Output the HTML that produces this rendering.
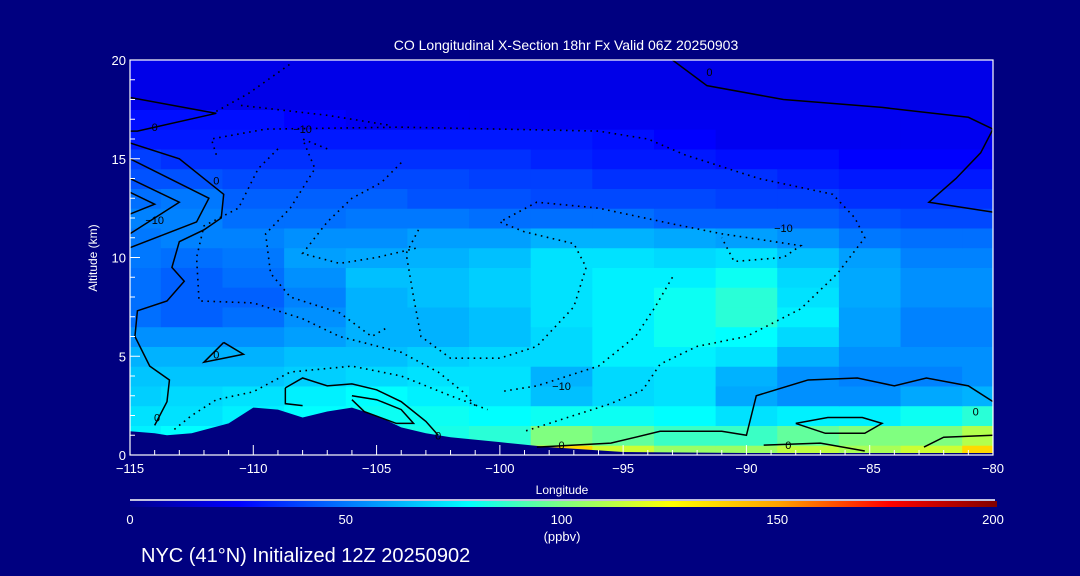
<!DOCTYPE html>
<html><head><meta charset="utf-8"><style>
html,body{margin:0;padding:0;background:#000080;}
svg{display:block;font-family:"Liberation Sans",sans-serif;}
</style></head><body>
<svg id="chart" width="1080" height="576" viewBox="0 0 1080 576" xmlns="http://www.w3.org/2000/svg">
<rect width="1080" height="576" fill="#000080"/>
<defs>
<clipPath id="plotclip"><rect x="130" y="60" width="863" height="395"/></clipPath>
<linearGradient id="cbgrad" x1="0" x2="1" y1="0" y2="0">
<stop offset="0" stop-color="#00008c"/><stop offset="0.125" stop-color="#0000ff"/>
<stop offset="0.39" stop-color="#00ffff"/><stop offset="0.5" stop-color="#80ff80"/>
<stop offset="0.625" stop-color="#ffff00"/><stop offset="0.75" stop-color="#ffa000"/>
<stop offset="0.875" stop-color="#ff0000"/><stop offset="1" stop-color="#800000"/>
</linearGradient>
</defs>
<g id="cells" clip-path="url(#plotclip)"></g>
<polygon id="terrain" fill="#000080"/>
<g id="contours" clip-path="url(#plotclip)"></g>
<g id="axes"></g>
<text x="566" y="50" fill="#fff" font-size="14" text-anchor="middle">CO Longitudinal X-Section 18hr  Fx Valid 06Z 20250903</text>
<text x="0" y="0" fill="#fff" font-size="12" text-anchor="middle" transform="translate(97,258) rotate(-90)">Altitude (km)</text>
<text x="562" y="494" fill="#fff" font-size="12" text-anchor="middle">Longitude</text>
<line x1="130" y1="500" x2="995" y2="500" stroke="#fff" stroke-width="1.5"/>
<rect x="130" y="501" width="867" height="6" fill="url(#cbgrad)"/>
<g id="cbticks"></g>
<text x="562" y="541" fill="#fff" font-size="13" text-anchor="middle">(ppbv)</text>
<text x="141" y="562" fill="#fff" font-size="20">NYC (41°N) Initialized 12Z 20250902</text>
</svg>
<script>
const lons = [-115,-112.5,-110,-107.5,-105,-102.5,-100,-97.5,-95,-92.5,-90,-87.5,-85,-82.5,-80];
const alts = [0,1,2,3,4,5,6,7,8,9,10,11,12,13,14,15,16,17,18,19,20];
const coRow0 = [78,80,80,82,85,85,90,135,115,105,105,112,108,115,135];
const coRow1 = [75,78,80,80,82,82,85,100,95,88,88,95,100,100,110];
const coRow2 = [72,72,75,78,80,80,78,80,80,78,72,75,75,80,85];
const coRow3 = [68,70,72,75,78,75,72,65,70,72,60,55,55,60,62];
const coRow4 = [66,66,66,68,70,72,72,62,70,72,62,55,52,52,55];
const coRow5 = [62,62,62,65,65,68,70,70,75,75,72,62,55,55,55];
const coRow6 = [55,55,55,58,62,62,65,70,75,80,78,70,58,52,52];
const coRow7 = [48,45,48,55,62,62,65,72,75,80,85,75,58,52,52];
const coRow8 = [48,45,45,52,62,65,68,72,75,80,85,72,60,55,55];
const coRow9 = [48,45,48,55,65,65,68,72,75,75,80,70,60,55,55];
const coRow10 = [50,48,50,58,60,62,65,72,72,70,72,65,58,52,52];
const coRow11 = [50,52,52,55,55,58,58,62,62,60,58,55,50,48,48];
const coRow12 = [52,52,48,48,50,50,48,48,48,45,45,45,42,40,40];
const coRow13 = [48,50,45,45,45,42,42,40,40,40,38,38,35,35,35];
const coRow14 = [42,42,40,40,40,40,38,38,35,35,35,32,30,30,30];
const coRow15 = [38,35,35,35,35,35,35,32,30,30,28,28,25,25,25];
const coRow16 = [30,30,30,30,30,30,30,30,28,25,22,22,22,22,22];
const coRow17 = [28,28,28,25,22,22,22,22,22,22,22,22,22,22,22];
const coRow18 = [20,20,20,20,20,20,20,20,20,20,20,20,20,20,20];
const coRow19 = [20,20,20,20,20,20,20,20,20,20,20,20,20,20,20];
const coRow20 = [20,20,20,20,20,20,20,20,20,20,20,20,20,20,20];
const coRows = [coRow0,coRow1,coRow2,coRow3,coRow4,coRow5,coRow6,coRow7,coRow8,coRow9,coRow10,coRow11,coRow12,coRow13,coRow14,coRow15,coRow16,coRow17,coRow18,coRow19,coRow20];
const terrainLon = [-115,-114,-113.5,-112.5,-111,-110,-109,-108,-107,-106,-105,-104,-103,-102,-100,-98,-95,-90,-85,-80];
const terrainAlt = [1.2,1.1,1.0,1.1,1.6,2.4,2.3,1.9,2.2,2.4,2.0,1.4,1.1,0.9,0.65,0.4,0.15,0.1,0.1,0.1];
const xTicks = [-115,-110,-105,-100,-95,-90,-85,-80];
const xTickLabels = ["\u2212115","\u2212110","\u2212105","\u2212100","\u221295","\u221290","\u221285","\u221280"];
const yTicks = [0,5,10,15,20];
const cbTicks = [0,50,100,150,200];
const solid1 = [[-115,18.1],[-111.5,17.3],[-114.7,16.4],[-115,16.4]];
const solid2 = [[-115,15.8],[-113,15.0],[-111.2,13.2],[-111.3,12],[-112,11.4],[-113,10.8],[-113.3,9.5],[-112.8,8.8],[-113.5,7.8],[-114.7,7.3],[-114.8,6.0],[-114.2,4.5],[-113.4,3.8],[-113.5,2.7],[-114,1.5]];
const solid3 = [[-115,15.0],[-111.8,13.0],[-112.3,11.8],[-115,10.5]];
const solid4 = [[-115,14.0],[-113,12.8],[-115,11.2]];
const solid5 = [[-115,13.3],[-114,12.7],[-115,12.2]];
const solid6 = [[-111.2,5.7],[-110.4,5.1],[-111.2,4.9],[-112,4.7],[-111.2,5.7]];
const solid7 = [[-108.7,3.4],[-108,3.9],[-107,3.5],[-106,3.6],[-105,3.3],[-104,2.7],[-103,1.7],[-102.5,1.0]];
const solid8 = [[-108.7,3.4],[-108.7,2.6],[-108,2.5]];
const solid9 = [[-106,3.0],[-105,2.8],[-104,2.3],[-103.5,1.6],[-104.2,1.6],[-105.5,2.2],[-106,2.8]];
const solid10 = [[-93,20],[-91.6,18.7],[-88.5,18.0],[-84.5,17.6],[-81,17.1],[-80,16.5],[-80.5,15.3],[-81.5,14],[-82.6,12.8],[-80,12.3]];
const solid11 = [[-98.5,0.4],[-95.5,0.6],[-93.5,1.2],[-91,1.2],[-90,1.0],[-89.6,3.0],[-87.5,3.8],[-85.5,3.9],[-84,3.5],[-82.7,3.9],[-81,3.5],[-80,2.7]];
const solid12 = [[-88,1.6],[-86.7,1.9],[-85.3,1.9],[-84.5,1.6],[-85.2,1.1],[-86.8,1.1],[-88,1.6]];
const solid13 = [[-80,1.0],[-82,0.9],[-82.8,0.4]];
const solid14 = [[-89.3,0.5],[-87,0.6],[-85.2,0.2]];
const dot1 = [[-111.5,17.4],[-110.2,18.3],[-108.5,19.8]];
const dot2 = [[-110.5,17.7],[-107,17.2],[-104.5,16.7]];
const dot3 = [[-111.5,15.2],[-111.7,16.0],[-109.5,16.5],[-104,16.6],[-100,16.5],[-96,16.4],[-94,16.0],[-92.5,15.2],[-89.5,14.0],[-86.5,13.2],[-85.6,12.0],[-85.2,11.0],[-86.3,9.2],[-87.8,7.4],[-90,6.0],[-92,5.5],[-93.5,4.6],[-94.2,3.3],[-95.5,2.6],[-98,1.6],[-99,1.2]];
const dot4 = [[-109,15.5],[-109.8,14.5],[-110.6,12.5],[-112,11.6],[-112.3,10],[-112.2,7.8],[-110,7.7],[-108,6.9],[-106.5,6.0],[-104,5.2],[-102.5,4.2],[-101.5,3.2],[-101,2.5]];
const dot5 = [[-107,15.5],[-108,16.0],[-107.5,14.5],[-108.5,12.5],[-109.5,11.2],[-109.3,9.2],[-108.5,8.0],[-106.5,7.2],[-105.2,6.0],[-104.5,6.5]];
const dot6 = [[-104,14.8],[-104.8,13.8],[-106,13.0],[-107,11.8],[-108,10.2],[-106.5,9.7],[-105,10.0],[-103.3,10.5]];
const dot7 = [[-103.3,11.4],[-103.8,10.2],[-103.5,8.0],[-103.2,6.0],[-102,4.9],[-100,4.9],[-98.5,5.5],[-97,7.5],[-96.5,9.5],[-97,10.7],[-99,11.3],[-100,11.8],[-98.5,12.8],[-96,12.5],[-93,11.7],[-91,11.2],[-87.8,10.6],[-88.5,10.0],[-90.5,9.8],[-91,11.0]];
const dot8 = [[-113.2,1.3],[-112.5,2.0],[-111.5,2.8],[-110,3.2],[-108.5,4.2],[-106,4.5],[-104,4.0],[-102,3.0],[-100.5,2.3]];
const dot9 = [[-93,9.0],[-93.7,7.5],[-94.5,6.0],[-96,4.5],[-98.5,3.5],[-100,3.2]];
const solidContours = [solid1,solid2,solid3,solid4,solid5,solid6,solid7,solid8,solid9,solid10,solid11,solid12,solid13,solid14];
const dottedContours = [dot1,dot2,dot3,dot4,dot5,dot6,dot7,dot8,dot9];
const contourLabels = [["0",-114,16.6],["0",-111.5,13.9],["\u221210",-114,11.9],["0",-111.5,5.1],["0",-113.9,1.9],["0",-102.5,1.0],["0",-97.5,0.5],["\u221210",-108,16.5],["\u221210",-88.5,11.5],["\u221210",-97.5,3.5],["0",-91.5,19.4],["0",-80.7,2.2],["0",-88.3,0.5]];

const X0=130,X1=993,Y0=455,Y1=60;
const xs = lon => X0 + (lon+115)/35*(X1-X0);
const ys = a => Y0 - a/20*(Y0-Y1);
const NS="http://www.w3.org/2000/svg";
const stops=[[0,[0,0,140]],[25,[0,0,255]],[78,[0,255,255]],[100,[128,255,128]],[125,[255,255,0]],[150,[255,160,0]],[175,[255,0,0]],[200,[128,0,0]]];
function cmap(v){
  for(let i=1;i<stops.length;i++){
    if(v<=stops[i][0]){const a=stops[i-1],b=stops[i];const t=(v-a[0])/(b[0]-a[0]);
      const c=a[1].map((x,k)=>Math.round(x+(b[1][k]-x)*t));return `rgb(${c[0]},${c[1]},${c[2]})`;}
  }
  return "rgb(128,0,0)";
}
const cells=document.getElementById('cells');
coRows.forEach((row,j)=>{
  row.forEach((v,i)=>{
    const r=document.createElementNS(NS,'rect');
    const xa=xs(Math.max(-115,lons[i]-1.25)), xb=xs(Math.min(-80,lons[i]+1.25));
    const ya=ys(Math.min(20,alts[j]+0.5)), yb=ys(Math.max(0,alts[j]-0.5));
    r.setAttribute('x',xa);r.setAttribute('y',ya);
    r.setAttribute('width',xb-xa+0.6);r.setAttribute('height',yb-ya+0.6);
    r.setAttribute('fill',cmap(v));
    
    
    cells.appendChild(r);
  });
});
let tp = terrainLon.map((l,i)=>xs(l)+','+ys(terrainAlt[i]));
tp.push(xs(-80)+','+Y0, xs(-115)+','+Y0);
document.getElementById('terrain').setAttribute('points',tp.join(' '));
const cg=document.getElementById('contours');
function drawLine(pts,dotted){
  const p=document.createElementNS(NS,'polyline');
  p.setAttribute('points',pts.map(q=>xs(q[0])+','+ys(q[1])).join(' '));
  p.setAttribute('fill','none');p.setAttribute('stroke','#000');
  p.setAttribute('stroke-width',dotted?1.6:1.5);
  if(dotted){p.setAttribute('stroke-dasharray','1.6 4.5');}
  
  
  cg.appendChild(p);
}
solidContours.forEach(c=>drawLine(c,false));
dottedContours.forEach(c=>drawLine(c,true));
contourLabels.forEach(l=>{
  const t=document.createElementNS(NS,'text');
  t.setAttribute('x',xs(l[1]));t.setAttribute('y',ys(l[2])+4);
  t.setAttribute('font-size','11');t.setAttribute('fill','#000');t.setAttribute('text-anchor','middle');
  t.textContent=l[0];
  
  
  cg.appendChild(t);
});
const ax=document.getElementById('axes');
function mk(tag,attrs,name){const e=document.createElementNS(NS,tag);for(const k in attrs)e.setAttribute(k,attrs[k]);
  
  
  ax.appendChild(e);return e;}
mk('rect',{x:X0,y:Y1,width:X1-X0,height:Y0-Y1,fill:'none',stroke:'#fff','stroke-width':1.2},'plot-frame');
for(let l=-115;l<=-80;l++){
  const major = l%5===0;
  mk('line',{x1:xs(l),x2:xs(l),y1:Y0,y2:Y0-(major?10:5),stroke:'#fff','stroke-width':1},'x-tick');
}
for(let a=0;a<=20;a++){
  const major=a%5===0;
  mk('line',{x1:X0,x2:X0+(major?10:5),y1:ys(a),y2:ys(a),stroke:'#fff','stroke-width':1},'y-tick');
}
xTicks.forEach((l,i)=>{const t=mk('text',{x:xs(l),y:Y0+18,fill:'#fff','font-size':13,'text-anchor':'middle'},'x-tick-label');t.textContent=xTickLabels[i];});
yTicks.forEach(a=>{const t=mk('text',{x:X0-4,y:ys(a)+5,fill:'#fff','font-size':13,'text-anchor':'end'},'y-tick-label');t.textContent=a;});
const cb=document.getElementById('cbticks');
cbTicks.forEach(v=>{const t=document.createElementNS(NS,'text');
  t.setAttribute('x',130+v/200*863);t.setAttribute('y',524);t.setAttribute('fill','#fff');
  t.setAttribute('font-size','13');t.setAttribute('text-anchor','middle');t.textContent=v;
  
  
  cb.appendChild(t);});
</script>
</body></html>
